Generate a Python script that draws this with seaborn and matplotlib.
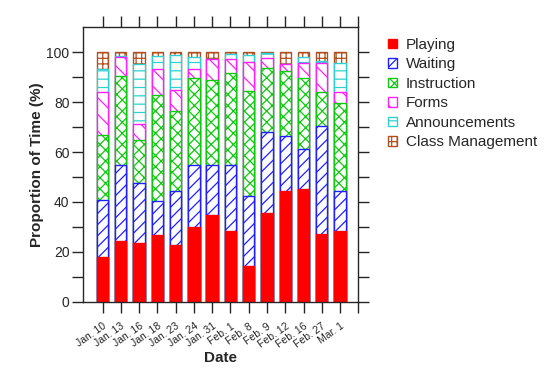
import numpy as np
import pandas as pd
import matplotlib
matplotlib.use("Agg")
import matplotlib.pyplot as plt
import matplotlib.patches as mpatches
import seaborn as sns

dates = ["Jan. 10", "Jan. 13", "Jan. 16", "Jan. 18", "Jan. 23", "Jan. 24", "Jan. 31",
         "Feb. 1", "Feb. 8", "Feb. 9", "Feb. 12", "Feb. 16", "Feb. 27", "Mar. 1"]

playing = [18.0, 24.4, 23.5, 26.6, 22.7, 30.0, 34.7, 28.2, 14.2, 35.6, 44.2, 45.1, 27.2, 28.2]
waiting = [22.6, 30.2, 23.9, 13.9, 21.8, 24.6, 20.2, 26.7, 28.3, 32.4, 22.4, 16.1, 43.3, 16.1]
instruction = [26.3, 35.9, 17.6, 42.3, 32.1, 35.1, 33.8, 36.6, 42.0, 25.7, 25.8, 28.3, 13.6, 35.2]
forms = [17.0, 7.4, 6.4, 10.4, 8.2, 3.6, 8.5, 5.6, 11.5, 3.9, 2.7, 6.0, 11.4, 4.6]
announcements = [9.2, 0.5, 23.8, 5.3, 14.0, 4.8, 0.0, 2.1, 2.9, 1.9, 0.0, 2.6, 1.0, 11.4]
class_mgmt = [6.9, 1.6, 4.8, 1.5, 1.2, 1.9, 2.8, 0.8, 1.1, 0.5, 4.9, 1.9, 3.5, 4.5]

activities = ["Playing", "Waiting", "Instruction", "Forms", "Announcements", "Class Management"]
series = [playing, waiting, instruction, forms, announcements, class_mgmt]

colors = ["#ff0000", "#2020ff", "#10c810", "#ff20ff", "#30d0d0", "#b05020"]
hatches = [None, "///", "xxx", "\\\\", "--", "+++"]

sns.set_style("ticks")
plt.rcParams["font.family"] = ["Liberation Sans", "DejaVu Sans"]
plt.rcParams["hatch.linewidth"] = 0.9

df = pd.DataFrame({"Date": dates})
for name, vals in zip(activities, series):
    df[name] = vals
cum = df[activities].cumsum(axis=1)

fig = plt.figure(figsize=(5.5, 3.71), dpi=100)
ax = fig.add_axes([0.1515, 0.1868, 0.5, 0.7396])

# tallest cumulative first, lower layers drawn over it (white fill hides upper hatch)
for i in reversed(range(len(activities))):
    name = activities[i]
    face = colors[i] if i == 0 else "white"
    sns.barplot(x=df["Date"], y=cum[name], order=dates, color=face,
                facecolor=face, edgecolor=colors[i], hatch=hatches[i],
                linewidth=1.0, width=0.62, saturation=1, ax=ax)

ax.set_xlim(-1.05, 13.97)
ax.set_ylim(0, 110)
ax.set_xticks(range(15))
ax.set_xticklabels(dates + [""], rotation=35, ha="right", rotation_mode="anchor", fontsize=7.5)
ax.set_yticks(range(0, 101, 10))
ax.set_yticklabels([str(v) if v % 20 == 0 else "" for v in range(0, 101, 10)], fontsize=10)
ax.tick_params(top=True, right=True, direction="out", length=8, width=1, pad=2)
ax.tick_params(axis="x", pad=6)
for s in ax.spines.values():
    s.set_visible(True)
    s.set_linewidth(1)
ax.set_xlabel("Date", fontsize=11, fontweight="bold", labelpad=1)
ax.set_ylabel("Proportion of Time (%)", fontsize=11, fontweight="bold", labelpad=2)

handles = [mpatches.Patch(facecolor=colors[i] if i == 0 else "white", edgecolor=colors[i],
                          hatch=hatches[i], linewidth=1.0, label=activities[i])
           for i in range(len(activities))]
fig.legend(handles=handles, loc="upper left", bbox_to_anchor=(0.68, 0.935), frameon=False,
           fontsize=11, handlelength=0.6, handleheight=0.6, handletextpad=0.6,
           labelspacing=0.36)

fig.savefig("out.png", dpi=100)
